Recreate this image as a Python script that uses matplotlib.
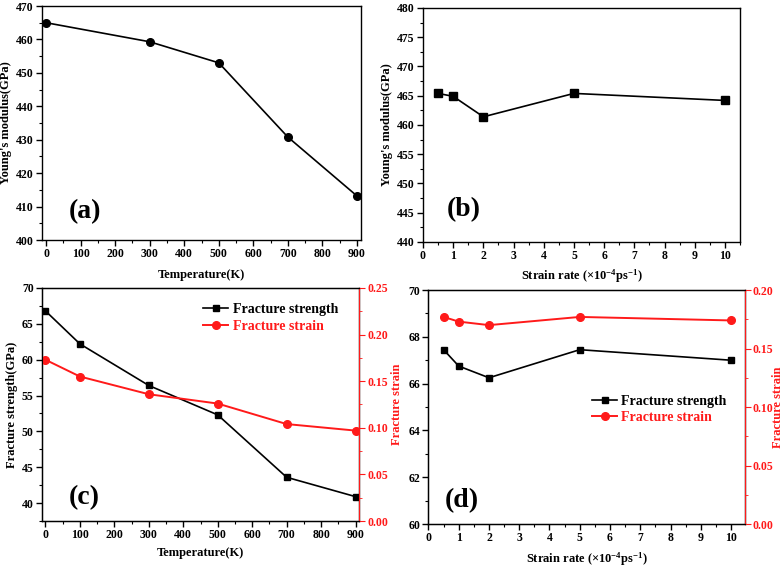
import matplotlib.pyplot as plt
from matplotlib.ticker import MultipleLocator

plt.rcParams['font.family'] = ['Liberation Serif', 'DejaVu Serif']
plt.rcParams['font.weight'] = 'bold'
plt.rcParams['axes.labelweight'] = 'bold'
plt.rcParams['mathtext.fontset'] = 'custom'
plt.rcParams['mathtext.rm'] = 'Liberation Serif:bold'
plt.rcParams['mathtext.bf'] = 'Liberation Serif:bold'
plt.rcParams['mathtext.default'] = 'bf'
plt.rcParams['xtick.direction'] = 'out'
plt.rcParams['ytick.direction'] = 'out'

# (a) Young's modulus vs temperature
temp_a = [0, 300, 500, 700, 900]
ym_temp = [465.0, 459.3, 453.0, 430.8, 413.2]

# (b) Young's modulus vs strain rate
rate = [0.5, 1, 2, 5, 10]
ym_rate = [465.4, 464.9, 461.4, 465.4, 464.2]

# (c) fracture strength / strain vs temperature
temp_c = [0, 100, 300, 500, 700, 900]
fs_temp = [66.8, 62.2, 56.4, 52.3, 43.6, 40.9]
fe_temp = [0.173, 0.155, 0.136, 0.126, 0.104, 0.097]

# (d) fracture strength / strain vs strain rate
fs_rate = [67.45, 66.75, 66.25, 67.45, 67.0]
fe_rate = [0.177, 0.173, 0.170, 0.177, 0.174]

RED = '#ff1a1a'
TICK_FS = 8.5
LAB_FS = 9
RATE_LABEL = r'Strain rate ($\times$10$^{-4}$ps$^{-1}$)'

fig = plt.figure(figsize=(7.84, 5.67), dpi=100)
all_axes = []


def style(ax):
    ax.tick_params(labelsize=TICK_FS, width=1, length=4, pad=2, top=False, right=False)
    ax.tick_params(which='minor', length=2, width=0.8, top=False, right=False)
    for s in ax.spines.values():
        s.set_linewidth(1.0)
    all_axes.append(ax)


def panel_label(ax, txt, x, y):
    ax.text(x, y, txt, transform=ax.transAxes, fontsize=20, fontweight='bold',
            va='center', ha='left')


# (a)
ax = fig.add_axes([0.0536, 0.5767, 0.4069, 0.4127])
ax.plot(temp_a, ym_temp, color='black', lw=1.2, marker='o', ms=5.5)
ax.set_xlim(-12, 912)
ax.set_ylim(400, 470)
ax.xaxis.set_major_locator(MultipleLocator(100))
ax.xaxis.set_minor_locator(MultipleLocator(50))
ax.yaxis.set_major_locator(MultipleLocator(10))
ax.yaxis.set_minor_locator(MultipleLocator(5))
ax.set_xlabel('Temperature(K)', fontsize=LAB_FS, labelpad=6)
ax.set_ylabel("Young's modulus(GPa)", fontsize=LAB_FS, labelpad=3)
style(ax)
panel_label(ax, '(a)', 0.085, 0.12)

# (b)
ax = fig.add_axes([0.5395, 0.5732, 0.4044, 0.4127])
ax.plot(rate, ym_rate, color='black', lw=1.2, marker='s', ms=5.5)
ax.set_xlim(0, 10.5)
ax.set_ylim(440, 480)
ax.xaxis.set_major_locator(MultipleLocator(1))
ax.xaxis.set_minor_locator(MultipleLocator(0.5))
ax.yaxis.set_major_locator(MultipleLocator(5))
ax.yaxis.set_minor_locator(MultipleLocator(2.5))
ax.set_xlabel(RATE_LABEL, fontsize=LAB_FS, labelpad=4)
ax.set_ylabel("Young's modulus(GPa)", fontsize=LAB_FS, labelpad=3)
style(ax)
panel_label(ax, '(b)', 0.075, 0.14)


def twin_panel(rect, x, fs, fe, xlim, ylim_l, ylim_r, xmaj, xmin, ymaj, ymin,
               rmaj, rmin, xlabel, show_left_label, legend_loc, legend_anchor,
               lab, lab_pos, rpad):
    ax = fig.add_axes(rect)
    l1, = ax.plot(x, fs, color='black', lw=1.2, marker='s', ms=5,
                  label='Fracture strength')
    ax.set_xlim(*xlim)
    ax.set_ylim(*ylim_l)
    ax.xaxis.set_major_locator(MultipleLocator(xmaj))
    ax.xaxis.set_minor_locator(MultipleLocator(xmin))
    ax.yaxis.set_major_locator(MultipleLocator(ymaj))
    ax.yaxis.set_minor_locator(MultipleLocator(ymin))
    ax.set_xlabel(xlabel, fontsize=LAB_FS, labelpad=4)
    if show_left_label:
        ax.set_ylabel('Fracture strength(GPa)', fontsize=LAB_FS, labelpad=3)
    style(ax)
    ax2 = ax.twinx()
    l2, = ax2.plot(x, fe, color=RED, lw=1.4, marker='o', ms=5.5,
                   label='Fracture strain')
    ax2.set_ylim(*ylim_r)
    ax2.yaxis.set_major_locator(MultipleLocator(rmaj))
    ax2.yaxis.set_minor_locator(MultipleLocator(rmin))
    ax2.set_ylabel('Fracture strain', color=RED, fontsize=LAB_FS, labelpad=rpad)
    ax2.tick_params(axis='y', colors=RED, labelsize=TICK_FS, length=4, pad=2)
    ax2.tick_params(axis='y', which='minor', colors=RED, length=2)
    ax2.spines['right'].set_color(RED)
    all_axes.append(ax2)
    leg = ax.legend(handles=[l1, l2], loc=legend_loc, bbox_to_anchor=legend_anchor,
                    frameon=False, fontsize=10, handlelength=1.8,
                    handletextpad=0.3, borderaxespad=0.2, labelspacing=0.25)
    leg.get_texts()[1].set_color(RED)
    panel_label(ax, lab, *lab_pos)
    return ax, ax2


# (c)
twin_panel([0.0536, 0.0811, 0.4043, 0.4110], temp_c, fs_temp, fe_temp,
           (-10, 910), (37.5, 70), (0, 0.25), 100, 50, 5, 2.5, 0.05, 0.025,
           'Temperature(K)', True, 'upper right', (0.96, 0.97), '(c)', (0.085, 0.1), 2)

# (d)
twin_panel([0.5465, 0.0758, 0.4033, 0.4127], rate, fs_rate, fe_rate,
           (0, 10.45), (60, 70), (0, 0.20), 1, 0.5, 2, 1, 0.05, 0.025,
           RATE_LABEL, False, 'center right', (0.97, 0.49), '(d)', (0.05, 0.1), -1)

fig.canvas.draw()
for a in all_axes:
    for t in a.get_xticklabels() + a.get_yticklabels():
        t.set_fontweight('bold')

fig.savefig('out.png', dpi=100)
